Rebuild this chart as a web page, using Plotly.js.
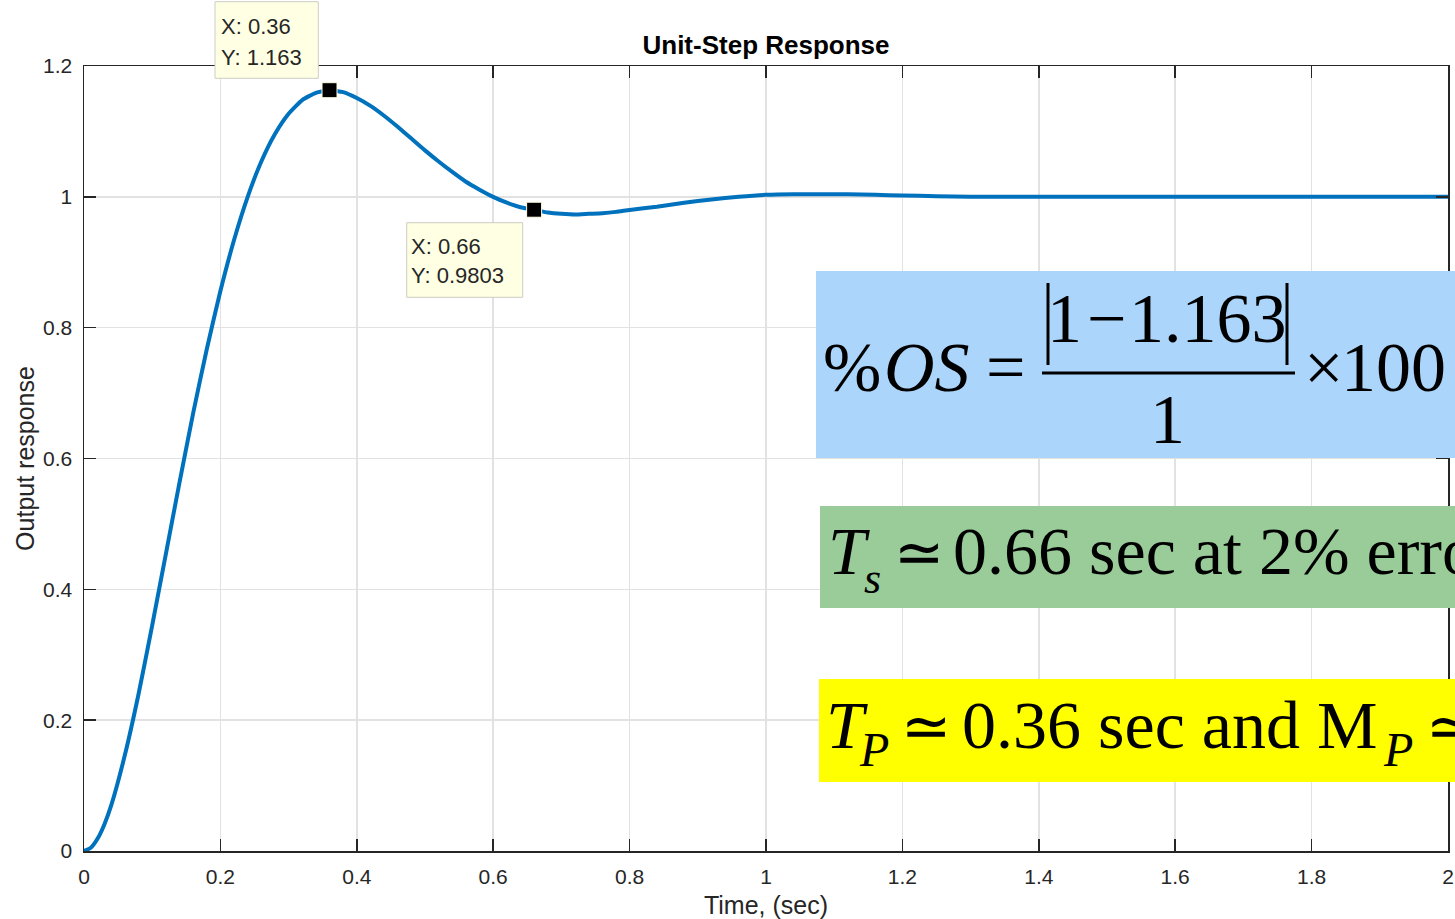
<!DOCTYPE html>
<html>
<head>
<meta charset="utf-8">
<script src="https://cdn.plot.ly/plotly-3.0.1.min.js"></script>
<style>
html,body{margin:0;padding:0;background:#fff;}
#chart{width:1455px;height:919px;}
</style>
</head>
<body>
<div id="chart"></div>
<script>
// ---------- data ----------
const timeSec = [0,0.01,0.02,0.03,0.04,0.06,0.08,0.10,0.12,0.14,0.16,0.18,0.20,0.22,0.24,0.26,0.28,0.30,0.32,0.34,0.36,0.38,0.40,0.42,0.44,0.46,0.48,0.50,0.52,0.54,0.56,0.58,0.60,0.62,0.64,0.66,0.68,0.70,0.72,0.74,0.76,0.78,0.80,0.84,0.88,0.92,0.96,1.00,1.04,1.08,1.12,1.16,1.20,1.25,1.30,1.35,1.40,1.50,1.60,1.70,1.80,1.90,2.00];
const outputResponse = [0,0.005,0.019,0.041,0.070,0.147,0.240,0.345,0.454,0.563,0.669,0.767,0.856,0.934,1.000,1.054,1.096,1.127,1.148,1.159,1.163,1.160,1.151,1.139,1.124,1.107,1.089,1.071,1.054,1.038,1.023,1.011,1.000,0.991,0.984,0.980,0.976,0.974,0.973,0.974,0.975,0.977,0.980,0.985,0.991,0.996,1.000,1.003,1.004,1.004,1.004,1.003,1.002,1.001,1.000,1.000,1.000,1.000,1.000,1.000,1.000,1.000,1.000];
const tipX = [0.36, 0.66];
const tipY = [1.163, 0.9803];
const xTickVals = [0,0.2,0.4,0.6,0.8,1,1.2,1.4,1.6,1.8,2];
const xTickText = ["0","0.2","0.4","0.6","0.8","1","1.2","1.4","1.6","1.8","2"];
const yTickVals = [0,0.2,0.4,0.6,0.8,1,1.2];
const yTickText = ["0","0.2","0.4","0.6","0.8","1","1.2"];
const chartTitle = "Unit-Step Response";
const xLabel = "Time, (sec)";
const yLabel = "Output response";
const peakText = "1.163";

// ---------- layout geometry (pixels) ----------
const L = 84, T = 66, W = 1364, H = 785;
const px = x => (x - L) / W;
const py = y => (T + H - y) / H;
const SERIF = "Liberation Serif, Times New Roman, serif";
const SANS = "Liberation Sans, Arial, Helvetica, sans-serif";
const GRAY = "#262626";

function mtext(text, cx, cy, size, anchor, italic) {
  return {
    xref: "paper", yref: "paper", x: px(cx), y: py(cy),
    xanchor: anchor, yanchor: "middle", showarrow: false,
    text: italic ? "<i>" + text + "</i>" : text,
    font: {family: SERIF, size: size, color: "#000"}
  };
}
function rect(x0, y0, x1, y1, color, line) {
  return {type: "rect", xref: "paper", yref: "paper", layer: "above",
    x0: px(x0), x1: px(x1), y0: py(y1), y1: py(y0),
    fillcolor: color, line: line || {width: 0}};
}
function vline(x, y0, y1) {
  return {type: "line", xref: "paper", yref: "paper", layer: "above",
    x0: px(x), x1: px(x), y0: py(y0), y1: py(y1), line: {color: "#000", width: 3}};
}
function hline(x0, x1, y) {
  return {type: "line", xref: "paper", yref: "paper", layer: "above",
    x0: px(x0), x1: px(x1), y0: py(y), y1: py(y), line: {color: "#000", width: 3}};
}

// datatip boxes (page pixels) and text offsets from the marked point
const tipBoxes = [[215, 1.7, 318.3, 78.3], [406.7, 222.7, 522.7, 297.3]];
const tipTextOffsets = [[-111, 63.5, 32.4], [-125, -36.8, -65.8]];

const shapes = [];
const annotations = [];
tipX.forEach((tx, i) => {
  const b = tipBoxes[i];
  shapes.push(rect(b[0], b[1], b[2], b[3], "#ffffe4", {color: "#cdcdc4", width: 1}));
  const o = tipTextOffsets[i];
  annotations.push({xref: "x", yref: "y", x: tx, y: tipY[i], showarrow: false,
    xanchor: "left", yanchor: "middle", xshift: o[0], yshift: o[1],
    text: "X: " + tx, font: {family: SANS, size: 22, color: GRAY}});
  annotations.push({xref: "x", yref: "y", x: tx, y: tipY[i], showarrow: false,
    xanchor: "left", yanchor: "middle", xshift: o[0], yshift: o[2],
    text: "Y: " + tipY[i], font: {family: SANS, size: 22, color: GRAY}});
});

// coloured equation panels
shapes.push(rect(816, 271, 1475, 458, "#acd5fb"));
shapes.push(rect(820, 506, 1475, 608, "#99cc99"));
shapes.push(rect(819, 679, 1475, 782, "#ffff00"));
// fraction bars
shapes.push(vline(1048, 283, 365));
shapes.push(vline(1287, 283, 365));
shapes.push(hline(1042, 1295, 373));

// %OS = |1 - 1.163| / 1 x 100
annotations.push(mtext("%", 851.5, 367.4, 70, "center", false));
annotations.push(mtext("OS", 926.5, 367.4, 70, "center", true));
annotations.push(mtext("=", 1005.5, 367.4, 70, "center", false));
annotations.push(mtext("1", 1064.5, 318.4, 70, "center", false));
annotations.push(mtext("\u2212", 1106.5, 318.4, 70, "center", false));
annotations.push(mtext(peakText, 1208, 318.4, 70, "center", false));
annotations.push(mtext("1", 1167.5, 419.4, 70, "center", false));
annotations.push(mtext("\u00d7", 1323, 367.4, 70, "center", false));
annotations.push(mtext("100", 1393, 367.4, 70, "center", false));

// Ts ~ 0.66 sec at 2% error
annotations.push(mtext("T", 826, 551, 68, "left", true));
annotations.push(mtext("s", 862, 578, 44, "left", true));
annotations.push(mtext("\u2243", 919, 553, 60, "center", false));
annotations.push(mtext("0.66 sec at 2% error", 951, 551, 68, "left", false));

// Tp ~ 0.36 sec and Mp ~ 1.163
annotations.push(mtext("T", 824, 725, 68, "left", true));
annotations.push(mtext("P", 857, 749, 48, "left", true));
annotations.push(mtext("\u2243", 926, 727, 60, "center", false));
annotations.push(mtext("0.36 sec and M", 959.5, 725, 68, "left", false));
annotations.push(mtext("P", 1381, 749, 48, "left", true));
annotations.push(mtext("\u2243 " + peakText, 1424, 727, 60, "left", false));

const traces = [
  {x: timeSec, y: outputResponse, type: "scatter", mode: "lines",
   line: {color: "#0072bd", width: 4, shape: "spline", smoothing: 0.5}, hoverinfo: "skip"},
  {x: tipX, y: tipY, type: "scatter", mode: "markers", cliponaxis: false,
   marker: {symbol: "square", size: 15, color: "#000", line: {color: "#ffffe4", width: 1}}, hoverinfo: "skip"}
];

const axisCommon = {
  ticks: "inside", ticklen: 12, tickwidth: 1.5, tickcolor: GRAY,
  showline: true, linecolor: GRAY, linewidth: 1.5, mirror: "ticks",
  showgrid: true, gridcolor: "#e2e2e2", gridwidth: 1.5, zeroline: false,
  tickfont: {family: SANS, size: 21, color: GRAY}, automargin: false, fixedrange: true
};

const layout = {
  width: 1455, height: 919,
  margin: {l: L, r: 1455 - L - W, t: T, b: 919 - T - H, pad: 0},
  paper_bgcolor: "#fff", plot_bgcolor: "#fff", showlegend: false, hovermode: false,
  title: {text: chartTitle, x: 0.5, xref: "paper", y: 1 - 45.3 / 919, yanchor: "middle",
          font: {family: SANS, size: 26, color: "#000", weight: "bold"}},
  xaxis: Object.assign({}, axisCommon, {range: [0, 2], tickvals: xTickVals, ticktext: xTickText,
    ticklabelstandoff: 6,
    title: {text: xLabel, standoff: 12, font: {family: SANS, size: 25, color: GRAY}}}),
  yaxis: Object.assign({}, axisCommon, {range: [0, 1.2], tickvals: yTickVals, ticktext: yTickText,
    ticklabelstandoff: 6,
    title: {text: yLabel, standoff: 1, font: {family: SANS, size: 25, color: GRAY}}}),
  shapes: shapes,
  annotations: annotations
};

Plotly.newPlot("chart", traces, layout, {displayModeBar: false, staticPlot: true});
</script>
</body>
</html>
